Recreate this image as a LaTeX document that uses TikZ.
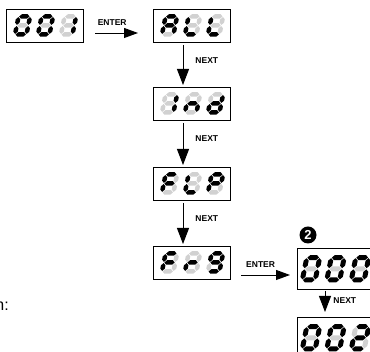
\documentclass[tikz,border=0pt]{standalone}
\usepackage{fontspec}
\setmainfont{Liberation Sans}
\usetikzlibrary{arrows.meta}
\definecolor{segoff}{gray}{0.82}
\def\dgw{11.5}\def\dgh{18}\def\hw{2.25}\def\gp{0.6}
\tikzset{
  dispbox/.style={draw, line width=0.9pt, inner sep=0pt, outer sep=0pt, anchor=south west},
  conn/.style={line width=0.9pt, -{Triangle[length=14pt,width=10pt]}},
  vconn/.style={line width=0.9pt, -{Triangle[length=16pt,width=12pt]}},
  lbl/.style={font=\bfseries\fontsize{8.5}{9}\selectfont, inner sep=0pt}
}
% horizontal / vertical segment: on?, x, y, length
\newcommand\hseg[4]{\ifnum#1=1 \def\tmpc{black}\else\def\tmpc{segoff}\fi
  \fill[\tmpc] (#2+\gp,#3) -- (#2+\gp+\hw,#3+\hw) -- (#2+#4-\gp-\hw,#3+\hw) -- (#2+#4-\gp,#3)
     -- (#2+#4-\gp-\hw,#3-\hw) -- (#2+\gp+\hw,#3-\hw) -- cycle;}
\newcommand\vseg[4]{\ifnum#1=1 \def\tmpc{black}\else\def\tmpc{segoff}\fi
  \fill[\tmpc] (#2,#3+\gp) -- (#2+\hw,#3+\gp+\hw) -- (#2+\hw,#3+#4-\gp-\hw) -- (#2,#3+#4-\gp)
     -- (#2-\hw,#3+#4-\gp-\hw) -- (#2-\hw,#3+\gp+\hw) -- cycle;}
\newcommand\sdig[9]{%
  \begin{scope}[shift={(#1,#2)},xslant=0.2]
   \hseg{#3}{0}{\dgh}{\dgw}
   \vseg{#4}{\dgw}{\dgh/2}{\dgh/2}
   \vseg{#5}{\dgw}{0}{\dgh/2}
   \hseg{#6}{0}{0}{\dgw}
   \vseg{#7}{0}{0}{\dgh/2}
   \vseg{#8}{0}{\dgh/2}{\dgh/2}
   \hseg{#9}{0}{\dgh/2}{\dgw}
  \end{scope}}
\newcommand\dgZero[2]{\sdig{#1}{#2}{1}{1}{1}{1}{1}{1}{0}}
\newcommand\dgOne[2]{\sdig{#1}{#2}{0}{1}{1}{0}{0}{0}{0}}
\newcommand\dgTwo[2]{\sdig{#1}{#2}{1}{1}{0}{1}{1}{0}{1}}
\newcommand\dgNine[2]{\sdig{#1}{#2}{1}{1}{1}{1}{0}{1}{1}}
\newcommand\dgA[2]{\sdig{#1}{#2}{1}{1}{1}{0}{1}{1}{1}}
\newcommand\dgL[2]{\sdig{#1}{#2}{0}{0}{0}{1}{1}{1}{0}}
\newcommand\dgn[2]{\sdig{#1}{#2}{0}{0}{1}{0}{1}{0}{1}}
\newcommand\dgd[2]{\sdig{#1}{#2}{0}{1}{1}{1}{1}{0}{1}}
\newcommand\dgF[2]{\sdig{#1}{#2}{1}{0}{0}{0}{1}{1}{1}}
\newcommand\dgP[2]{\sdig{#1}{#2}{1}{1}{0}{0}{1}{1}{1}}
\newcommand\dgr[2]{\sdig{#1}{#2}{0}{0}{0}{0}{1}{0}{1}}
% box geometry (set per display group)
\def\bw{77}\def\bh{33}\def\dox{9}\def\doy{7.5}\def\dpitch{23}
% name, left x, bottom y, three character macros
\newcommand\disp[6]{%
  \node[dispbox, minimum width=\bw pt, minimum height=\bh pt] (#1) at (#2,#3) {};
  #4{#2+\dox}{#3+\doy}
  #5{#2+\dox+\dpitch}{#3+\doy}
  #6{#2+\dox+2*\dpitch}{#3+\doy}}
\begin{document}
\begin{tikzpicture}[x=1pt,y=1pt]
\path[use as bounding box, clip] (0,0) rectangle (370,352);
\disp{d1}{6}{310}{\dgZero}{\dgZero}{\dgOne}
\disp{d2}{153}{310}{\dgA}{\dgL}{\dgL}
\disp{d3}{153}{232}{\dgOne}{\dgn}{\dgd}
\disp{d4}{153}{152}{\dgF}{\dgL}{\dgP}
\disp{d5}{153}{73}{\dgF}{\dgr}{\dgNine}
% larger displays
\def\bw{96}\def\bh{41}\def\dox{5.3}\def\doy{9}\def\dpitch{24.5}
\def\dgw{12.9}\def\dgh{22.4}\def\hw{2.5}
\disp{d6}{297}{63}{\dgZero}{\dgZero}{\dgZero}
\disp{d7}{297}{-6}{\dgZero}{\dgZero}{\dgTwo}
% connectors
\draw[conn] ([xshift=12pt,yshift=-7.5pt]d1.east) coordinate (s1) -- ([xshift=-15pt]s1 -| d2.west)
  node[lbl, pos=0.4, above=7pt] (l1) {ENTER};
\draw[vconn] ([xshift=-8.5pt,yshift=-3pt]d2.south) -- ([xshift=-8.5pt,yshift=2pt]d3.north)
  node[lbl, pos=0.38, right=12pt] (l2) {NEXT};
\draw[vconn] ([xshift=-8.5pt,yshift=-3pt]d3.south) -- ([xshift=-8.5pt,yshift=2pt]d4.north)
  node[lbl, pos=0.38, right=12pt] (l3) {NEXT};
\draw[vconn] ([xshift=-8.5pt,yshift=-3pt]d4.south) -- ([xshift=-8.5pt,yshift=2pt]d5.north)
  node[lbl, pos=0.38, right=12pt] (l4) {NEXT};
\draw[conn] ([xshift=11pt,yshift=-12.5pt]d5.east) coordinate (s2) -- ([xshift=-7pt]s2 -| d6.west)
  node[lbl, pos=0.4, above=7pt] (l5) {ENTER};
\draw[vconn] ([xshift=28pt,yshift=-2pt]d6.south west) -- ([xshift=28pt,yshift=5pt]d7.north west)
  node[lbl, pos=0.45, right=8pt] (l6) {NEXT};
\node[circle, fill=black, text=white, font=\bfseries\fontsize{13}{13}\selectfont, minimum size=17pt, inner sep=0pt] (n2) at (308,117) {2};
\node[anchor=base east, font=\fontsize{16}{18}\selectfont, inner sep=0pt] (tn) at (9,41) {n:};
\end{tikzpicture}
\end{document}
